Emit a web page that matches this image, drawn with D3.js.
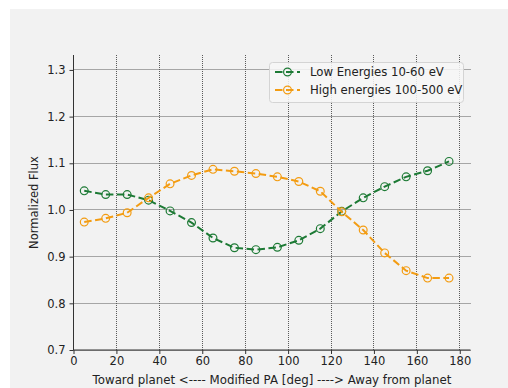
<!DOCTYPE html>
<html><head><meta charset="utf-8">
<script src="https://cdn.jsdelivr.net/npm/d3@7"></script>
<style>body{margin:0;background:#fff;} svg{display:block;font-family:"DejaVu Sans",Verdana,sans-serif;}</style>
</head><body>
<svg id="c" width="508" height="388"></svg>
<script>
const pitchAngles = [5,15,25,35,45,55,65,75,85,95,105,115,125,135,145,155,165,175];
const lowEnergy  = [1.041,1.033,1.033,1.021,0.998,0.973,0.940,0.919,0.915,0.920,0.935,0.960,0.997,1.026,1.050,1.071,1.084,1.104];
const highEnergy = [0.974,0.982,0.994,1.026,1.056,1.074,1.087,1.083,1.078,1.071,1.061,1.040,0.996,0.957,0.908,0.870,0.854,0.854];
const seriesNames = ["Low Energies 10-60 eV","High energies 100-500 eV"];
const xTicks = [0,20,40,60,80,100,120,140,160,180];
const yTicks = [0.7,0.8,0.9,1.0,1.1,1.2,1.3];

const svg = d3.select("#c");
svg.append("rect").attr("x",10).attr("y",9).attr("width",498).attr("height",379).attr("fill","#f2f2f2");

const L=73.5,R=470.5,T=55,B=350;
const x = d3.scaleLinear().domain([0,185]).range([L,R]);
const y = d3.scaleLinear().domain([0.7,1.332]).range([B,T]);
const px = v => Math.round(v-0.5)+0.5;

const g = svg.append("g");
g.selectAll(".vg").data(xTicks).join("line")
 .attr("x1",d=>px(x(d))).attr("x2",d=>px(x(d))).attr("y1",T).attr("y2",B)
 .attr("stroke","#5a5a5a").attr("stroke-width",1).attr("stroke-dasharray","1,1");
g.selectAll(".hg").data(yTicks).join("line")
 .attr("x1",L).attr("x2",R).attr("y1",d=>px(y(d))).attr("y2",d=>px(y(d)))
 .attr("stroke","#5a5a5a").attr("stroke-width",1).attr("stroke-dasharray","1,1");

const xa = svg.append("g").attr("transform",`translate(0,${B})`)
 .call(d3.axisBottom(x).tickValues(xTicks).tickFormat(d3.format("d")).tickSize(4).tickPadding(3).tickSizeOuter(0));
const ya = svg.append("g").attr("transform",`translate(${L},0)`)
 .call(d3.axisLeft(y).tickValues(yTicks).tickFormat(d3.format(".1f")).tickSize(4).tickPadding(4).tickSizeOuter(0));
[xa,ya].forEach(a=>{
  a.select(".domain").attr("stroke","#333").attr("stroke-width",1);
  a.selectAll(".tick line").attr("stroke","#333");
  a.selectAll("text").attr("fill","#222").attr("font-size","11.5px").attr("font-family","DejaVu Sans, Verdana, sans-serif");
});
ya.select(".domain").attr("d",`M0,${B}V${T}`);
xa.select(".domain").attr("d",`M${L},0H${R}`);

svg.append("text").attr("x",(L+R)/2).attr("y",384).attr("text-anchor","middle")
 .attr("font-size","11.8px").attr("fill","#222").text("Toward planet <---- Modified PA [deg] ----> Away from planet");
svg.append("text").attr("transform",`translate(38,${(T+B)/2}) rotate(-90)`).attr("text-anchor","middle")
 .attr("font-size","11.5px").attr("fill","#222").text("Normalized Flux");

const colors = ["#1d7a35","#f39c12"];
const data = [lowEnergy, highEnergy];
const line = d3.line().x((d,i)=>x(pitchAngles[i])).y(d=>y(d));
data.forEach((vals,k)=>{
  svg.append("path").datum(vals).attr("d",line).attr("fill","none")
   .attr("stroke",colors[k]).attr("stroke-width",2).attr("stroke-dasharray","7.5,3.5");
  svg.selectAll(".m"+k).data(vals).join("circle")
   .attr("cx",(d,i)=>x(pitchAngles[i])).attr("cy",d=>y(d)).attr("r",3.9)
   .attr("fill","none").attr("stroke",colors[k]).attr("stroke-width",1.2);
});

const lg = svg.append("g");
lg.append("rect").attr("x",269.5).attr("y",62.5).attr("width",194).attr("height",40).attr("rx",3)
 .attr("fill","#f7f7f7").attr("fill-opacity",0.85).attr("stroke","#d4d4d4").attr("stroke-width",1);
seriesNames.forEach((n,k)=>{
  const cy = 72 + k*18;
  lg.append("line").attr("x1",275).attr("x2",300).attr("y1",cy).attr("y2",cy)
   .attr("stroke",colors[k]).attr("stroke-width",2).attr("stroke-dasharray","7.5,3.5");
  lg.append("circle").attr("cx",287.5).attr("cy",cy).attr("r",3.9).attr("fill","none")
   .attr("stroke",colors[k]).attr("stroke-width",1.2);
  lg.append("text").attr("x",310).attr("y",cy+4).attr("font-size","11.7px").attr("fill","#222").text(n);
});
</script>
</body></html>
